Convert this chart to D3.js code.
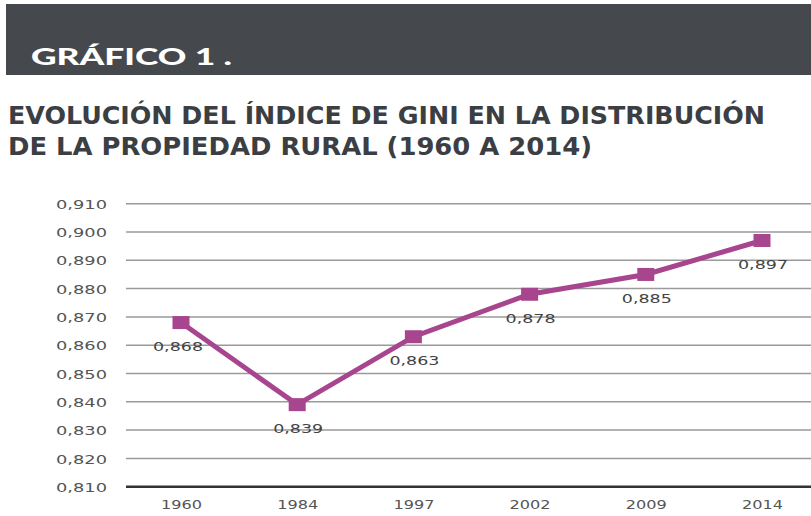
<!DOCTYPE html>
<html><head><meta charset="utf-8">
<script src="https://cdn.jsdelivr.net/npm/d3@7"></script>
<style>body{margin:0;background:#fff}svg{display:block}</style>
</head><body>
<script>
const years = ["1960","1984","1997","2002","2009","2014"];
const gini = [0.868, 0.839, 0.863, 0.878, 0.885, 0.897];
const valueLabels = ["0,868","0,839","0,863","0,878","0,885","0,897"];
const yTicks = [0.81,0.82,0.83,0.84,0.85,0.86,0.87,0.88,0.89,0.90,0.91];
const headerText = "GRÁFICO 1 .";
const titleLines = ["EVOLUCIÓN DEL ÍNDICE DE GINI EN LA DISTRIBUCIÓN","DE LA PROPIEDAD RURAL (1960 A 2014)"];

const W = 811, H = 516;
const svg = d3.select("body").append("svg").attr("width", W).attr("height", H);

// header box
svg.append("rect").attr("x",6).attr("y",4).attr("width",W-6).attr("height",71).attr("fill","#45484d");
svg.append("text").attr("x",31).attr("y",65).text(headerText)
  .attr("font-family","Lato,'DejaVu Sans'").attr("font-weight",900).attr("font-size",22)
  .attr("fill","#fff").attr("textLength",201).attr("lengthAdjust","spacingAndGlyphs");

// titles
const titleWidths = [757, 584];
titleLines.forEach((t,i)=>{
  svg.append("text").attr("x",8).attr("y",124+i*31).text(t)
    .attr("font-family","'DejaVu Sans Condensed','Liberation Sans Narrow','DejaVu Sans'")
    .attr("font-weight","bold").attr("font-size",25).attr("fill","#3b3e43")
    .attr("textLength",titleWidths[i]).attr("lengthAdjust","spacingAndGlyphs");
});

const x = d3.scalePoint().domain(years).range([181, 762]);
const y = d3.scaleLinear().domain([0.81, 0.91]).range([486.7, 203.7]);
const left = 126, right = 811;

// gridlines
svg.append("g").selectAll("line").data(yTicks.filter(d=>d>0.815)).join("line")
  .attr("x1",left).attr("x2",right).attr("y1",d=>y(d)).attr("y2",d=>y(d))
  .attr("stroke","#9a9a9a").attr("stroke-width",1.5);
// baseline
svg.append("line").attr("x1",left).attr("x2",right).attr("y1",y(0.81)).attr("y2",y(0.81))
  .attr("stroke","#333").attr("stroke-width",2.5);

// y axis labels
const yAxis = d3.axisLeft(y).tickValues(yTicks).tickSize(0).tickPadding(0)
  .tickFormat(d=>d3.format(".3f")(d).replace(".",","));
const gy = svg.append("g").attr("transform","translate(107,0)").call(yAxis);
gy.select(".domain").remove();
gy.selectAll("text").attr("font-family","'DejaVu Sans'").attr("font-size",13)
  .attr("fill","#555").attr("dy","0.36em")
  .attr("textLength",51).attr("lengthAdjust","spacingAndGlyphs");

// x axis labels
const xAxis = d3.axisBottom(x).tickSize(0).tickPadding(0);
const gx = svg.append("g").attr("transform","translate(0,500)").call(xAxis);
gx.select(".domain").remove();
gx.selectAll("text").attr("font-family","'DejaVu Sans'").attr("font-size",13)
  .attr("fill","#555").attr("dy","0.71em")
  .attr("textLength",41).attr("lengthAdjust","spacingAndGlyphs");

const data = years.map((yr,i)=>({yr, v: gini[i], lab: valueLabels[i]}));
const color = "#a7468f";

svg.append("path").datum(data)
  .attr("d", d3.line().x(d=>x(d.yr)).y(d=>y(d.v)))
  .attr("fill","none").attr("stroke",color).attr("stroke-width",5).attr("stroke-linejoin","miter");

svg.append("g").selectAll("rect").data(data).join("rect")
  .attr("x",d=>x(d.yr)-8.5).attr("y",d=>y(d.v)-6.5).attr("width",17).attr("height",13)
  .attr("fill",color);

svg.append("g").selectAll("text").data(data).join("text")
  .attr("x",(d,i)=>x(d.yr)+(i===0?-3:1)).attr("y",d=>y(d.v)+28.5)
  .attr("text-anchor","middle").text(d=>d.lab)
  .attr("font-family","'DejaVu Sans'").attr("font-size",13).attr("fill","#444")
  .attr("textLength",50).attr("lengthAdjust","spacingAndGlyphs");
</script>
</body></html>
